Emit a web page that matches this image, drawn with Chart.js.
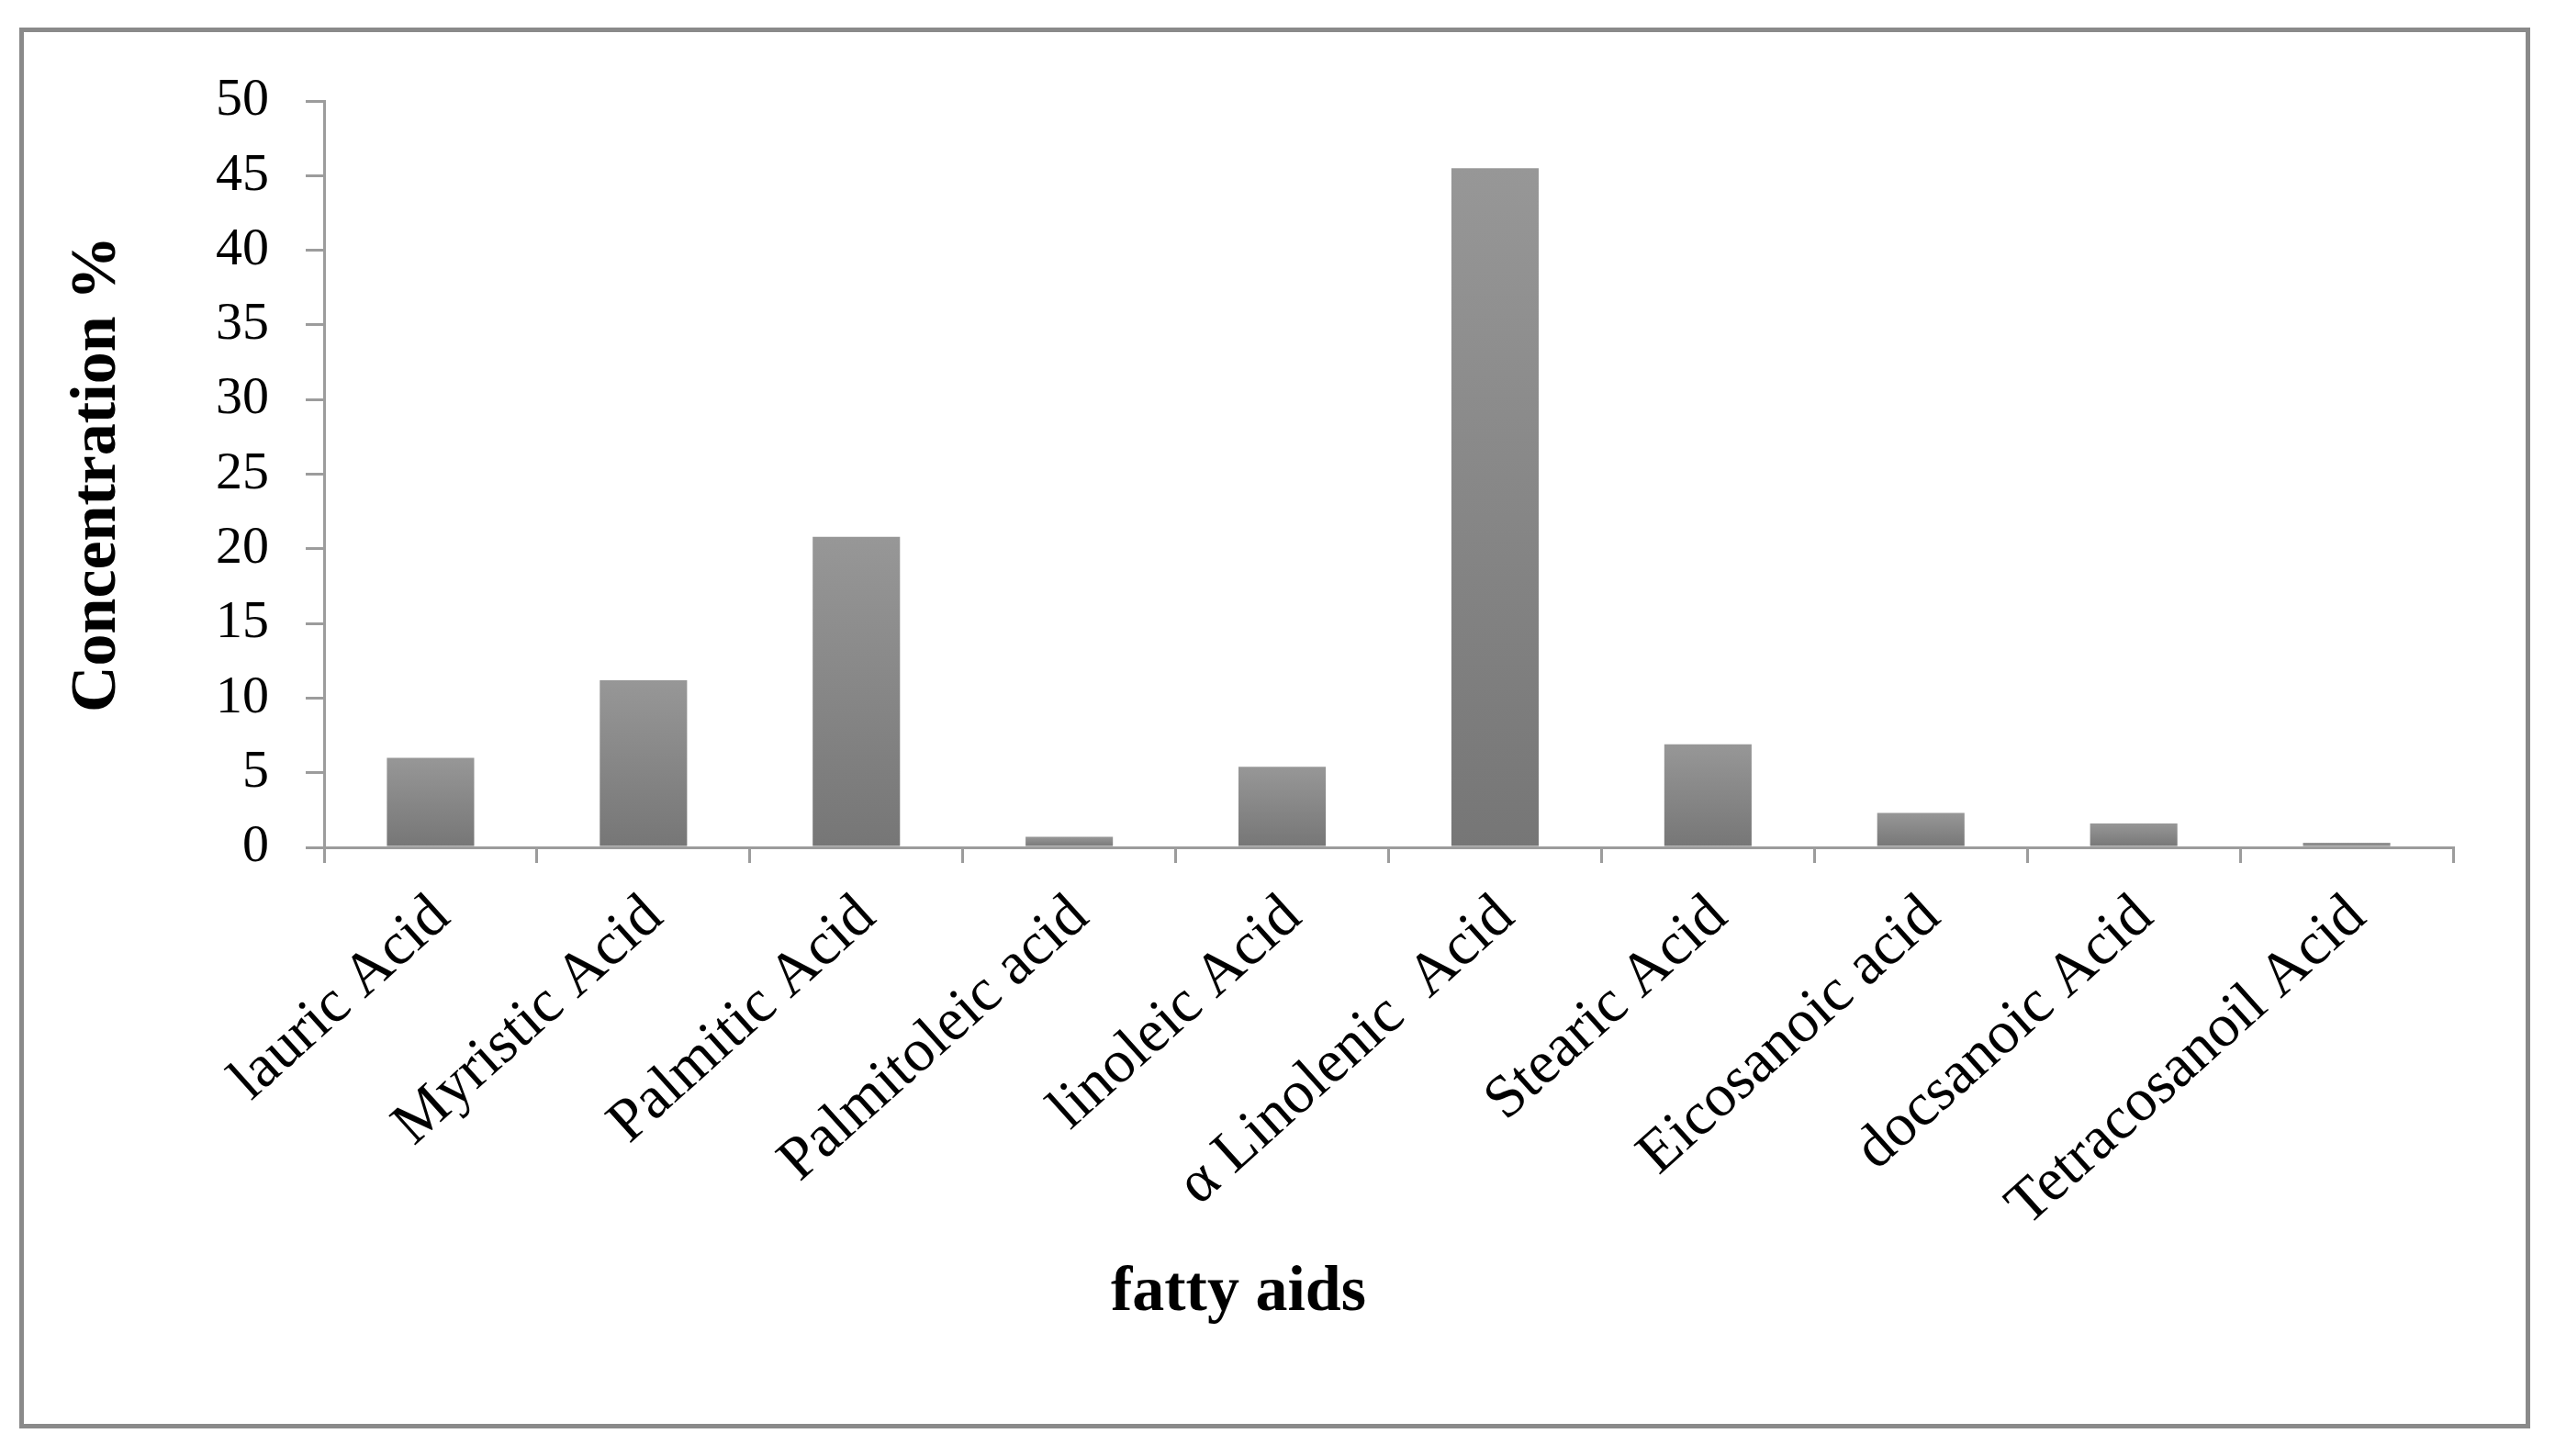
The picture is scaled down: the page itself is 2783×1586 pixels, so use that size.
<!DOCTYPE html>
<html>
<head>
<meta charset="utf-8">
<script src="https://cdn.jsdelivr.net/npm/chart.js@4/dist/chart.umd.min.js"></script>
<style>
  html, body { margin: 0; padding: 0; background: #ffffff; }
  #wrap { position: relative; width: 2783px; height: 1586px; }
  #frame { position: absolute; left: 21px; top: 30px; width: 2735px; height: 1526px;
           border: 5px solid #8a8a8a; box-sizing: border-box; }
  #c { position: absolute; left: 0; top: 0; }
</style>
</head>
<body>
<div id="wrap">
  <div id="frame"></div>
  <canvas id="c" width="2783" height="1586"></canvas>
</div>
<script>
// ---- data ----
const categories = [
  'lauric Acid', 'Myristic Acid', 'Palmitic Acid', 'Palmitoleic acid', 'linoleic Acid',
  'α Linolenic  Acid', 'Stearic Acid', 'Eicosanoic acid', 'docsanoic Acid', 'Tetracosanoil Acid'
];
const concentration = [6.0, 11.2, 20.8, 0.7, 5.4, 45.5, 6.9, 2.3, 1.6, 0.3];
const yMin = 0;
const yMax = 50;
const yStep = 5;
const xTitle = 'fatty aids';
const yTitle = 'Concentration %';

const FONT = "'Liberation Serif', 'Times New Roman', serif";
const AXIS_GREY = '#9c9c9c';

function barFill(context) {
  const chart = context.chart;
  const area = chart.chartArea;
  if (!area || context.type !== 'data') return '#868686';
  const y = chart.scales.y;
  const top = y.getPixelForValue(context.raw);
  const base = y.getPixelForValue(0);
  if (!isFinite(top) || !isFinite(base) || Math.abs(base - top) < 1) return '#868686';
  const g = chart.ctx.createLinearGradient(0, top, 0, base);
  g.addColorStop(0, '#979797');
  g.addColorStop(1, '#767676');
  return g;
}

new Chart(document.getElementById('c'), {
  type: 'bar',
  data: {
    labels: categories,
    datasets: [{
      data: concentration,
      backgroundColor: barFill,
      borderWidth: 0,
      categoryPercentage: 0.41,
      barPercentage: 1.0
    }]
  },
  options: {
    responsive: false,
    animation: false,
    devicePixelRatio: 1,
    layout: { padding: { left: 26, right: 111, top: 110, bottom: 135 } },
    plugins: {
      legend: { display: false },
      tooltip: { enabled: false },
      title: {
        display: true,
        text: xTitle,
        position: 'bottom',
        color: '#000000',
        font: { family: FONT, size: 70, weight: 'bold' },
        padding: { top: 0, bottom: 0 }
      }
    },
    scales: {
      x: {
        grid: {
          display: true, drawOnChartArea: false, drawTicks: true, offset: true,
          tickLength: 17, color: AXIS_GREY, tickColor: AXIS_GREY, lineWidth: 3
        },
        border: { display: true, color: AXIS_GREY, width: 3 },
        ticks: {
          color: '#000000',
          font: { family: FONT, size: 66 },
          autoSkip: false,
          minRotation: 42,
          maxRotation: 42,
          padding: 20,
          labelOffset: 12
        },
        afterFit: (s) => { s.height = 444; }
      },
      y: {
        min: yMin,
        max: yMax,
        grid: {
          display: true, drawOnChartArea: false, drawTicks: true,
          tickLength: 20, color: AXIS_GREY, tickColor: AXIS_GREY, lineWidth: 3
        },
        border: { display: true, color: AXIS_GREY, width: 3 },
        ticks: {
          stepSize: yStep,
          color: '#000000',
          font: { family: FONT, size: 58 },
          padding: 40
        },
        title: {
          display: true,
          text: yTitle,
          color: '#000000',
          font: { family: FONT, size: 70, weight: 'bold' },
          padding: { top: 39, bottom: 0 }
        },
        afterFit: (s) => { s.width = 327; }
      }
    }
  }
});
</script>
</body>
</html>
